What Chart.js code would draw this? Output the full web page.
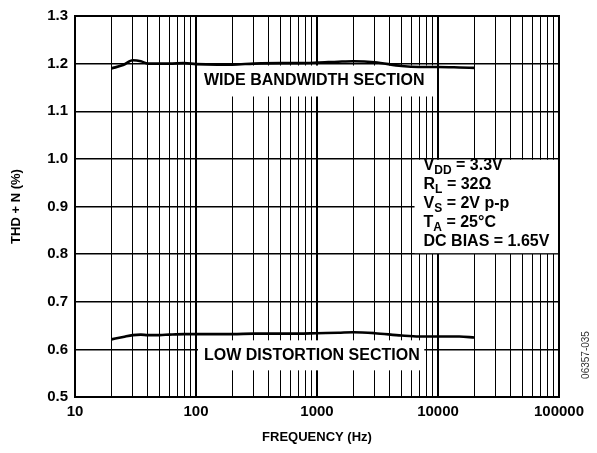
<!DOCTYPE html>
<html>
<head>
<meta charset="utf-8">
<style>
  html, body { margin: 0; padding: 0; background: #fff; }
  #wrap { width: 597px; height: 453px; }
</style>
<script src="https://cdn.jsdelivr.net/npm/chart.js@4/dist/chart.umd.min.js"></script>
</head>
<body>
<div id="wrap"><canvas id="thd"></canvas></div>
<script>
// THD + N vs frequency, two sections
const frequencies = [20, 25, 30, 35, 40, 50, 60, 80, 100, 150, 200, 300, 500, 700, 1000, 1500, 2000, 3000, 5000, 7000, 10000, 15000, 20000];
const wideBandwidth = [1.19, 1.197, 1.207, 1.205, 1.2, 1.2, 1.2, 1.201, 1.199, 1.198, 1.198, 1.2, 1.201, 1.201, 1.202, 1.204, 1.205, 1.203, 1.195, 1.193, 1.193, 1.192, 1.191];
const lowDistortion = [0.621, 0.626, 0.63, 0.631, 0.63, 0.63, 0.631, 0.632, 0.632, 0.632, 0.632, 0.633, 0.633, 0.633, 0.634, 0.635, 0.636, 0.634, 0.629, 0.627, 0.627, 0.627, 0.625];

const xGridValues = [10, 20, 30, 40, 50, 60, 70, 80, 90, 100, 200, 300, 400, 500, 600, 700, 800, 900,
  1000, 2000, 3000, 4000, 5000, 6000, 7000, 8000, 9000, 10000, 20000, 30000, 40000, 50000, 60000, 70000, 80000, 90000, 100000];
const xTickLabels = ["10", "100", "1000", "10000", "100000"];
const yTickValues = [0.5, 0.6, 0.7, 0.8, 0.9, 1.0, 1.1, 1.2, 1.3];

const sectionLabels = ["WIDE BANDWIDTH SECTION", "LOW DISTORTION SECTION"];
// [main, subscript, rest]
const conditions = [
  ["V", "DD", " = 3.3V"],
  ["R", "L", " = 32\u03A9"],
  ["V", "S", " = 2V p-p"],
  ["T", "A", " = 25\u00B0C"],
  ["DC BIAS = 1.65V", "", ""]
];
const figureId = "06357-035";

const FONT = "'Liberation Sans', Arial, Helvetica, sans-serif";

function isDecade(v) {
  return xTickLabels.indexOf(String(v)) !== -1;
}

const annotate = {
  id: "annotate",
  beforeDatasetsDraw(chart) {
    const { ctx, chartArea: a, scales: { x, y } } = chart;
    ctx.save();
    ctx.fillStyle = "#fff";
    // white boxes that cut the grid
    const wL = x.getPixelForValue(100) + 2, wR = x.getPixelForValue(9600);
    const wT = y.getPixelForValue(1.196), wB = y.getPixelForValue(1.131);
    ctx.fillRect(wL, wT, wR - wL, wB - wT);
    const lR = x.getPixelForValue(7700);
    const lT = y.getPixelForValue(0.619), lB = y.getPixelForValue(0.556);
    ctx.fillRect(wL, lT, lR - wL, lB - lT);
    const cL = x.getPixelForValue(6400), cT = y.getPixelForValue(0.998), cB = y.getPixelForValue(0.802);
    ctx.fillRect(cL, cT, a.right - cL, cB - cT);

    ctx.fillStyle = "#000";
    ctx.textBaseline = "middle";
    ctx.textAlign = "left";
    ctx.font = "bold 16px " + FONT;
    ctx.fillText(sectionLabels[0], wL + 6, (wT + wB) / 2);
    ctx.fillText(sectionLabels[1], wL + 6, (lT + lB) / 2);

    // test conditions
    let ty = cT + 5.5;
    const tx = cL + 9;
    conditions.forEach(function (c) {
      ctx.font = "bold 16px " + FONT;
      ctx.fillText(c[0], tx, ty);
      let px = tx + ctx.measureText(c[0]).width;
      if (c[1]) {
        ctx.font = "bold 12px " + FONT;
        ctx.fillText(c[1], px, ty + 5);
        px += ctx.measureText(c[1]).width;
      }
      ctx.font = "bold 16px " + FONT;
      ctx.fillText(c[2], px, ty);
      ty += 19;
    });

    // frame
    ctx.strokeStyle = "#000";
    ctx.lineWidth = 2;
    ctx.strokeRect(a.left, a.top, a.right - a.left, a.bottom - a.top);
    ctx.restore();
  },
  afterDraw(chart) {
    const { ctx } = chart;
    ctx.save();
    ctx.translate(586, 355);
    ctx.rotate(-Math.PI / 2);
    ctx.fillStyle = "#333";
    ctx.font = "10px " + FONT;
    ctx.textAlign = "center";
    ctx.textBaseline = "middle";
    ctx.fillText(figureId, 0, 0);
    ctx.restore();
  }
};

new Chart(document.getElementById("thd"), {
  type: "line",
  data: {
    datasets: [
      {
        label: "Wide bandwidth",
        data: frequencies.map((f, i) => ({ x: f, y: wideBandwidth[i] })),
        borderColor: "#000",
        borderWidth: 2.6,
        pointRadius: 0,
        cubicInterpolationMode: "monotone",
        fill: false,
      },
      {
        label: "Low distortion",
        data: frequencies.map((f, i) => ({ x: f, y: lowDistortion[i] })),
        borderColor: "#000",
        borderWidth: 2.6,
        pointRadius: 0,
        cubicInterpolationMode: "monotone",
        fill: false,
      },
    ],
  },
  options: {
    responsive: true,
    maintainAspectRatio: false,
    animation: false,
    layout: { padding: { top: 14, right: 38, left: 0, bottom: 0 } },
    plugins: {
      legend: { display: false },
      tooltip: { enabled: false },
    },
    scales: {
      x: {
        type: "logarithmic",
        min: 10,
        max: 100000,
        afterBuildTicks: function (scale) {
          scale.ticks = xGridValues.map((v) => ({ value: v }));
        },
        afterFit: function (scale) { scale.height = 56; },
        grid: {
          color: "#000",
          lineWidth: (c) => (isDecade(c.tick && c.tick.value) ? 2 : 1),
          drawTicks: false,
        },
        border: { color: "#000", width: 2 },
        ticks: {
          color: "#000",
          padding: 6,
          autoSkip: false,
          maxRotation: 0,
          font: { family: FONT, size: 15, weight: "bold" },
          callback: function (value) {
            return isDecade(value) ? String(value) : "";
          },
        },
        title: {
          display: true,
          text: "FREQUENCY (Hz)",
          color: "#000",
          font: { family: FONT, size: 13, weight: "bold" },
          padding: { top: 4, bottom: 8 },
        },
      },
      y: {
        min: 0.5,
        max: 1.3,
        afterBuildTicks: function (scale) {
          scale.ticks = yTickValues.map((v) => ({ value: v }));
        },
        afterFit: function (scale) { scale.width = 75; },
        grid: { color: "#000", lineWidth: 1.4, drawTicks: false },
        border: { color: "#000", width: 2 },
        ticks: {
          color: "#000",
          padding: 7,
          font: { family: FONT, size: 15, weight: "bold" },
          callback: (value) => Number(value).toFixed(1),
        },
        title: {
          display: true,
          text: "THD + N (%)",
          color: "#000",
          font: { family: FONT, size: 13, weight: "bold" },
          padding: { top: 9, bottom: 4 },
        },
      },
    },
  },
  plugins: [annotate],
});
</script>
</body>
</html>
